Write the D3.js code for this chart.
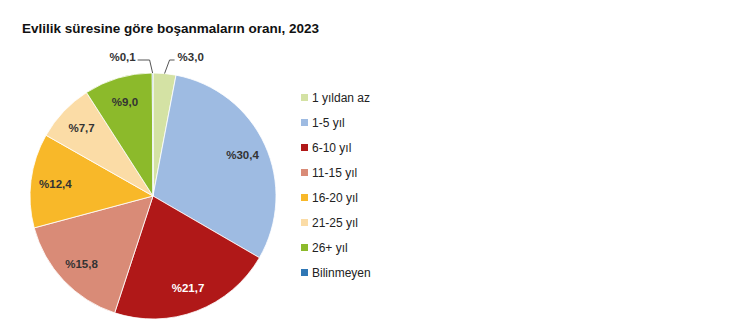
<!DOCTYPE html>
<html>
<head>
<meta charset="utf-8">
<script src="https://cdn.jsdelivr.net/npm/d3@7"></script>
<style>
  body { margin: 0; background: #fff; }
  svg { display: block; font-family: "Liberation Sans", Arial, sans-serif; }
</style>
</head>
<body>
<div id="chart"></div>
<script>
// data
var categories = ["1 yıldan az", "1-5 yıl", "6-10 yıl", "11-15 yıl", "16-20 yıl", "21-25 yıl", "26+ yıl", "Bilinmeyen"];
var values = [3.0, 30.4, 21.7, 15.8, 12.4, 7.7, 9.0, 0.1];
var labels = ["%3,0", "%30,4", "%21,7", "%15,8", "%12,4", "%7,7", "%9,0", "%0,1"];
var colors = ["#d4e2a4", "#9ebbe2", "#b01818", "#d98b77", "#f8b829", "#fbdca6", "#8cba2b", "#2f77b5"];

var width = 750, height = 334;
var cx = 153, cy = 196, r = 123;

var svg = d3.select("#chart").append("svg")
    .attr("width", width)
    .attr("height", height);

svg.append("text")
    .attr("x", 22).attr("y", 33)
    .attr("font-size", 13.5).attr("font-weight", "bold")
    .attr("fill", "#111")
    .text("Evlilik süresine göre boşanmaların oranı, 2023");

var pie = d3.pie().sort(null).value(d => d)(values);
var arc = d3.arc().innerRadius(0).outerRadius(r);
var labelArc = d3.arc().innerRadius(r * 0.8).outerRadius(r * 0.8);

var g = svg.append("g").attr("transform", "translate(" + cx + "," + cy + ")");

g.selectAll("path")
  .data(pie)
  .join("path")
    .attr("d", arc)
    .attr("fill", (d, i) => colors[i])
    .attr("stroke", "#fff")
    .attr("stroke-width", 0.8);

// inside labels (skip tiny ones)
g.selectAll("text.in")
  .data(pie.filter(d => d.data > 5))
  .join("text")
    .attr("class", "in")
    .attr("transform", d => "translate(" + labelArc.centroid(d) + ")")
    .attr("text-anchor", "middle")
    .attr("dy", "0.35em")
    .attr("font-size", 11.5).attr("font-weight", "bold")
    .attr("fill", d => d.index == 2 ? "#fff" : "#333")
    .text(d => labels[d.index]);

// outside labels for small slices
var small = [
  {i: 7, side: -1},
  {i: 0, side: 1}
];
small.forEach(function(s) {
  var d = pie[s.i];
  var a = (d.startAngle + d.endAngle) / 2;
  var px = Math.sin(a) * r, py = -Math.cos(a) * r;
  var ly = -136;
  var pts = s.side < 0
    ? [[px, py], [px - 3, ly], [px - 15, ly]]
    : [[px, py], [px + 5, ly], [px + 10, ly]];
  g.append("path")
    .attr("d", d3.line()(pts))
    .attr("fill", "none")
    .attr("stroke", "#555")
    .attr("stroke-width", 1);
  g.append("text")
    .attr("x", s.side < 0 ? px - 17 : px + 13)
    .attr("y", ly)
    .attr("dy", "0.1em")
    .attr("text-anchor", s.side < 0 ? "end" : "start")
    .attr("font-size", 11.5).attr("font-weight", "bold")
    .attr("fill", "#333")
    .text(labels[s.i]);
});

// legend
var legend = svg.append("g").attr("transform", "translate(301,98)");
var row = legend.selectAll("g")
  .data(categories)
  .join("g")
    .attr("transform", (d, i) => "translate(0," + i * 25 + ")");
row.append("rect")
    .attr("x", 0).attr("y", -4)
    .attr("width", 7).attr("height", 7)
    .attr("fill", (d, i) => colors[i]);
row.append("text")
    .attr("x", 11).attr("y", 0)
    .attr("dy", "0.35em")
    .attr("font-size", 12)
    .attr("fill", "#222")
    .text(d => d);
</script>
</body>
</html>
